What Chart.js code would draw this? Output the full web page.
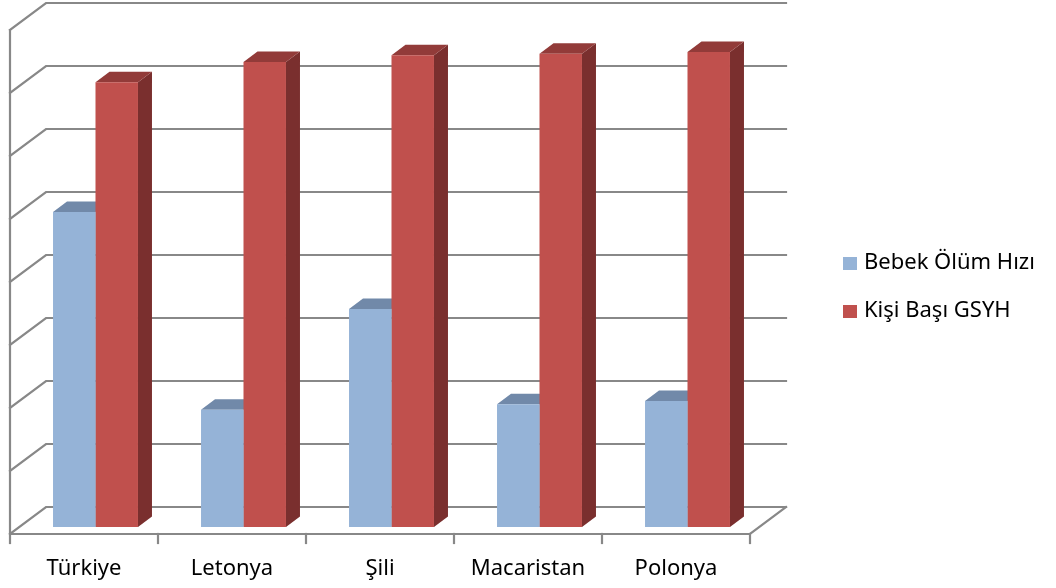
<!DOCTYPE html>
<html>
<head>
<meta charset="utf-8">
<script src="https://cdn.jsdelivr.net/npm/chart.js@4/dist/chart.umd.min.js"></script>
<style>
  body { margin: 0; background: #fff; }
  #wrap { position: relative; width: 1056px; height: 588px; }
</style>
</head>
<body>
<div id="wrap"><canvas id="barChart"></canvas></div>
<script>
const countries = ["Türkiye", "Letonya", "Şili", "Macaristan", "Polonya"];
const infantMortality = [5.0, 1.86, 3.46, 1.95, 2.0];
const gdpPerCapita = [7.06, 7.38, 7.49, 7.51, 7.54];
const yMax = 8;

// oblique 3D offsets (px)
const barShift = { x: 11.5, y: 7 };   // front of floor -> bar front plane
const wallShift = { x: 24.5, y: 20 }; // bar front plane -> back wall
const barDepth = { x: 14, y: 10.5 };

const gridColor = "#888888";
const labelFont = "22px 'Noto Sans', sans-serif";

function poly(ctx, pts, color) {
  ctx.beginPath();
  ctx.moveTo(pts[0][0], pts[0][1]);
  for (let i = 1; i < pts.length; i++) ctx.lineTo(pts[i][0], pts[i][1]);
  ctx.closePath();
  ctx.fillStyle = color;
  ctx.fill();
}

const walls3d = {
  id: "walls3d",
  beforeDatasetsDraw(chart) {
    const ctx = chart.ctx;
    const ys = chart.scales.y;
    const area = chart.chartArea;
    const frontL = area.left - barShift.x;
    const frontR = area.right - barShift.x;
    const backL = area.left + wallShift.x;
    const backR = area.right + wallShift.x;

    ctx.save();
    ctx.strokeStyle = gridColor;
    ctx.lineWidth = 2.2;
    ctx.lineCap = "square";

    // back wall gridlines + left wall diagonals
    for (let v = 0; v <= yMax; v++) {
      const y = ys.getPixelForValue(v);
      ctx.beginPath();
      ctx.moveTo(frontL, y + barShift.y);
      ctx.lineTo(backL, y - wallShift.y);
      ctx.lineTo(backR, y - wallShift.y);
      ctx.stroke();
    }

    // left wall vertical axis and floor
    const y0 = ys.getPixelForValue(0);
    const yTop = ys.getPixelForValue(yMax);
    ctx.beginPath();
    ctx.moveTo(frontL, yTop + barShift.y);
    ctx.lineTo(frontL, y0 + barShift.y);
    ctx.lineTo(frontR, y0 + barShift.y);
    ctx.lineTo(backR, y0 - wallShift.y);
    ctx.stroke();

    // category ticks on the front floor edge
    const step = (frontR - frontL) / countries.length;
    for (let i = 0; i <= countries.length; i++) {
      const x = frontL + i * step;
      ctx.beginPath();
      ctx.moveTo(x, y0 + barShift.y);
      ctx.lineTo(x, y0 + barShift.y + 9);
      ctx.stroke();
    }

    // top and side faces of the columns, drawn before the front faces
    chart.data.datasets.forEach((ds, di) => {
      chart.getDatasetMeta(di).data.forEach((bar) => {
        const l = bar.x - bar.width / 2, r = bar.x + bar.width / 2;
        const dx = barDepth.x, dy = barDepth.y;
        poly(ctx, [[r, bar.y], [r + dx, bar.y - dy], [r + dx, bar.base - dy], [r, bar.base]], ds.sideColor);
        poly(ctx, [[l, bar.y], [l + dx, bar.y - dy], [r + dx, bar.y - dy], [r, bar.y]], ds.topColor);
      });
    });
    ctx.restore();
  },
  afterDraw(chart) {
    const ctx = chart.ctx;
    const xs = chart.scales.x, ys = chart.scales.y;
    const y0 = ys.getPixelForValue(0);
    ctx.save();
    ctx.fillStyle = "#000";
    ctx.font = labelFont;
    ctx.textAlign = "center";
    ctx.textBaseline = "alphabetic";
    countries.forEach((c, i) => {
      ctx.fillText(c, xs.getPixelForValue(i) - barShift.x, y0 + 48);
    });

    // legend
    ctx.textAlign = "left";
    chart.data.datasets.forEach((ds, di) => {
      const yb = 269 + di * 48;
      ctx.fillStyle = ds.backgroundColor;
      ctx.fillRect(843, yb - 12, 14, 13);
      ctx.fillStyle = "#000";
      ctx.fillText(ds.label, 864, yb);
    });
    ctx.restore();
  }
};

new Chart(document.getElementById("barChart"), {
  type: "bar",
  data: {
    labels: countries,
    datasets: [
      {
        label: "Bebek Ölüm Hızı",
        data: infantMortality,
        backgroundColor: "#95B3D7",
        topColor: "#7189A9",
        sideColor: "#6A809D",
        categoryPercentage: 0.574,
        barPercentage: 1.0
      },
      {
        label: "Kişi Başı GSYH",
        data: gdpPerCapita,
        backgroundColor: "#C0504D",
        topColor: "#923B39",
        sideColor: "#7A2F2E",
        categoryPercentage: 0.574,
        barPercentage: 1.0
      }
    ]
  },
  options: {
    responsive: true,
    maintainAspectRatio: false,
    animation: false,
    layout: { padding: { left: 21.5, right: 294.5, top: 23, bottom: 61 } },
    plugins: {
      legend: { display: false },
      tooltip: { enabled: false }
    },
    scales: {
      x: { display: false },
      y: { display: false, min: 0, max: yMax }
    }
  },
  plugins: [walls3d]
});
</script>
</body>
</html>
